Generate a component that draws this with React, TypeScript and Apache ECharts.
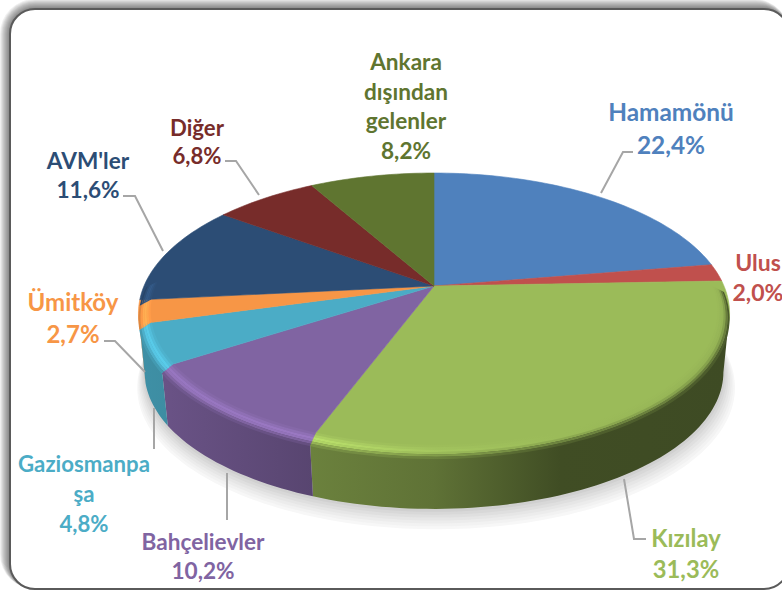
import React, { useEffect, useRef } from "react";
import * as echarts from "echarts";

const categories = ["Hamamönü", "Ulus", "Kızılay", "Bahçelievler", "Gaziosmanpa\nşa", "Ümitköy", "AVM'ler", "Diğer", "Ankara\ndışından\ngelenler"];
const shares = [22.4, 2.0, 31.3, 10.2, 4.8, 2.7, 11.6, 6.8, 8.2];
const colors = ["#4F81BD", "#C0504D", "#9BBB59", "#8064A2", "#4BACC6", "#F79646", "#2C4D75", "#772C2A", "#5F7530"];
const labelColors = ["#4F81BD", "#C0504D", "#9BBB59", "#8064A2", "#4BACC6", "#F79646", "#2C4D75", "#772C2A", "#5F7530"];

// label layout: centre x, centre y of block, font size, line height
const labelLayout = [
  [671, 128, 24.4, 33],
  [758, 277, 23, 30],
  [686, 553, 23.8, 31],
  [203, 556, 22.6, 29],
  [84, 493, 22.2, 30],
  [73, 317, 24, 32],
  [88, 175, 22.6, 29],
  [197, 141, 22.2, 28],
  [406, 106, 22.6, 29.5],
];
const leaders: number[][][] = [
  [[601, 193], [623, 152], [633, 152]],
  [],
  [[624, 479], [634, 539], [646, 539]],
  [[227, 473], [227, 520]],
  [[154, 408], [154, 449]],
  [[104, 341], [115, 341], [145, 372]],
  [[123, 196], [135, 196], [163, 251]],
  [[225, 161], [236, 161], [259, 195]],
  [],
];

// pie geometry (perspective view of a disc)
const CX = 434, CY = 286, RX = 290, RY = 134.8, K = 0.193, DEPTH = 60, BOTTOM_R = 0.98;
const FONT = "Lato, Carlito, sans-serif";

function pt(deg: number, r = 1, h = 0): number[] {
  const a = (deg * Math.PI) / 180;
  const u = r * Math.sin(a), v = r * Math.cos(a), w = 1 + K * v;
  return [CX + (RX * u) / w, CY - (RY * v) / w + h];
}
function arc(a0: number, a1: number, r = 1, h = 0): number[][] {
  const n = Math.max(2, Math.ceil(Math.abs(a1 - a0) / 1.5));
  const out: number[][] = [];
  for (let i = 0; i <= n; i++) out.push(pt(a0 + ((a1 - a0) * i) / n, r, h));
  return out;
}
const total = shares.reduce((s, v) => s + v, 0);
function sliceAngles(i: number): number[] {
  let sum = 0;
  for (let k = 0; k < i; k++) sum += shares[k];
  return [(sum / total) * 360, ((sum + shares[i]) / total) * 360];
}
function rgb(hex: string): number[] {
  return [1, 3, 5].map((p) => parseInt(hex.substr(p, 2), 16));
}
function shade(hex: string, f: number): string {
  const c = rgb(hex).map((v) => Math.min(255, Math.round(v * f)));
  return `rgb(${c[0]},${c[1]},${c[2]})`;
}
const XL = 138, XR = 729;
const lightX = [138, 170, 313, 434, 560, 729];
const wallF = [0.84, 0.82, 0.69, 0.61, 0.41, 0.4];
const hiF = [1.2, 1.22, 1.24, 1.08, 1.0, 0.95];
function gradient(hex: string, fs: number[]) {
  return new echarts.graphic.LinearGradient(
    XL, 0, XR, 0,
    lightX.map((x, i) => ({ offset: (x - XL) / (XR - XL), color: shade(hex, fs[i]) })),
    true as any
  );
}
const WALL_FROM = 101, WALL_TO = 259;
const BEVEL_FROM = 90, BEVEL_TO = 272;
const STRIPS = 6;

// soft shadow below the pie: stacked shapes from pale to darker grey
const SHADOW_BANDS: [number, string][] = [
  [14, "#f7f7f7"], [12, "#f2f2f2"], [10, "#ececec"], [8, "#e6e6e6"], [6, "#dfdfdf"], [4, "#d8d8d8"], [2, "#d0d0d0"],
];
function renderWall(params: any) {
  const i = params.dataIndex;
  const [a0, a1] = sliceAngles(i);
  const s = Math.max(a0, WALL_FROM), e = Math.min(a1, WALL_TO);
  const children: any[] = [];
  if (i === 0) {
    SHADOW_BANDS.forEach(([d, c]) => {
      children.push({
        type: "polygon",
        silent: true,
        shape: {
          points: [
            ...arc(85, 275, 0.97),
            ...arc(275, 85, BOTTOM_R + d * 0.0022, DEPTH + d).map((p) => [p[0] + d * 0.15, p[1]]),
          ],
        },
        style: { fill: c },
      });
    });
  }
  if (e > s) {
    children.push({
      type: "polygon",
      silent: true,
      shape: { points: [...arc(s, e), ...arc(e, s, BOTTOM_R, DEPTH)] },
      style: { fill: gradient(colors[i], wallF), stroke: null },
    });
  }
  return { type: "group", children };
}
function renderFace(params: any) {
  const i = params.dataIndex;
  const [a0, a1] = sliceAngles(i);
  const pts = [[CX, CY], ...arc(a0, a1)];
  return {
    type: "polygon",
    silent: true,
    shape: { points: pts },
    style: { fill: colors[i], stroke: colors[i], lineWidth: 0.6 },
  };
}
function renderBevel(params: any) {
  const i = params.dataIndex;
  const [a0, a1] = sliceAngles(i);
  const s = Math.max(a0, BEVEL_FROM), e = Math.min(a1, BEVEL_TO);
  const children: any[] = [];
  if (e > s) {
    for (let k = 0; k < STRIPS; k++) {
      const t0 = k / STRIPS, t1 = (k + 1) / STRIPS, t = (t0 + t1) / 2;
      const fs = lightX.map((_, j) =>
        t < 0.5 ? 1 + (hiF[j] - 1) * (t / 0.5) : hiF[j] + (wallF[j] - hiF[j]) * ((t - 0.5) / 0.5)
      );
      const pts = [
        ...arc(s, e, 0.96 + 0.04 * t0, 6 * t0),
        ...arc(e, s, 0.96 + 0.04 * t1, 6 * t1),
      ];
      children.push({
        type: "polygon",
        silent: true,
        shape: { points: pts },
        style: { fill: gradient(colors[i], fs), stroke: null },
      });
    }
  }
  return { type: "group", children };
}
function renderLabel(params: any) {
  const i = params.dataIndex;
  const [x, y, size, lh] = labelLayout[i];
  const children: any[] = [];
  if (leaders[i].length) {
    children.push({
      type: "polyline",
      silent: true,
      shape: { points: leaders[i] },
      style: { stroke: "#A6A6A6", lineWidth: 2, fill: null },
    });
  }
  children.push({
    type: "text",
    silent: true,
    style: {
      text: `${categories[i]}\n${shares[i].toFixed(1).replace(".", ",")}%`,
      x, y,
      fill: labelColors[i],
      fontFamily: FONT,
      fontWeight: 700,
      fontSize: size,
      lineHeight: lh,
      align: "center",
      verticalAlign: "middle",
    },
  });
  return { type: "group", children };
}

const FRAME = { x: 10, y: 9, width: 779, height: 580, r: 25 };
const FRAME_SHADOW_STEPS = [10, 9, 8, 7, 6, 5, 4, 3, 2, 1];

export default function App() {
  const ref = useRef<HTMLDivElement>(null);
  useEffect(() => {
    document.body.style.margin = "0";
    document.body.style.background = "#fff";
    const chart = echarts.init(ref.current!, undefined, { renderer: "svg" });
    const custom = (renderItem: any, data: any[], z: number) => ({
      type: "custom",
      coordinateSystem: "none",
      renderItem,
      data,
      z,
      silent: true,
      animation: false,
    });
    chart.setOption({
      animation: false,
      backgroundColor: "#fff",
      graphic: [
        ...FRAME_SHADOW_STEPS.map((d) => ({
          type: "rect",
          z: 0,
          silent: true,
          shape: {
            x: FRAME.x - d,
            y: FRAME.y - d,
            width: FRAME.width + d,
            height: FRAME.height + d,
            r: FRAME.r + d,
          },
          style: { fill: "rgba(0,0,0,0.06)" },
        })),
        {
          type: "rect",
          z: 1,
          silent: true,
          shape: FRAME,
          style: { fill: "#fff", stroke: "#5a5a5a", lineWidth: 2 },
        },
      ],
      series: [
        custom(renderWall, shares, 11),
        custom(renderFace, shares, 12),
        custom(renderBevel, shares, 13),
        custom(renderLabel, shares, 14),
      ],
    });
    return () => chart.dispose();
  }, []);
  return <div ref={ref} style={{ width: 782, height: 592 }} />;
}
